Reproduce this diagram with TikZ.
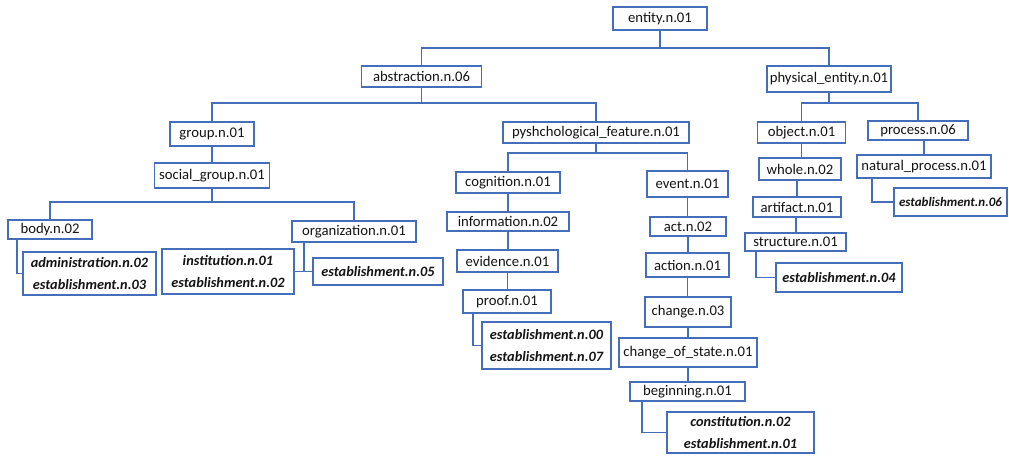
\documentclass[tikz,border=0pt]{standalone}
\usepackage{fontspec}
\setmainfont{Carlito}
\definecolor{boxblue}{RGB}{68,110,185}
\definecolor{txt}{RGB}{20,20,20}
\tikzset{
  every picture/.style={x=1pt,y=-1pt},
  tbox/.style={draw=boxblue,line width=1.5pt,fill=white,inner sep=0pt,text=txt,
    font=\fontsize{14.7}{17}\selectfont},
  lbox/.style={tbox,align=center,font=\fontsize{14.3}{21.5}\selectfont\bfseries\itshape},
  conn/.style={draw=boxblue,line width=1.4pt},
}
\begin{document}
\begin{tikzpicture}
\useasboundingbox (0,0) rectangle (1009,455);
% nodes
\node[tbox,minimum width=94,minimum height=23] (entity) at (660,18.5) {entity.n.01};
\node[tbox,minimum width=120,minimum height=21] (abs) at (421.5,76.5) {abstraction.n.06};
\node[tbox,minimum width=124,minimum height=26] (phys) at (829,79) {physical\_entity.n.01};
\node[tbox,minimum width=84,minimum height=24] (group) at (212,134) {group.n.01};
\node[tbox,minimum width=186,minimum height=21] (psych) at (596,132.5) {pyshchological\_feature.n.01};
\node[tbox,minimum width=88,minimum height=21] (object) at (801.5,132.5) {object.n.01};
\node[tbox,minimum width=100,minimum height=19] (process) at (918,130.5) {process.n.06};
\node[tbox,minimum width=115,minimum height=25] (social) at (212,175.5) {social\_group.n.01};
\node[tbox,minimum width=84,minimum height=19] (body) at (50,229.5) {body.n.02};
\node[tbox,minimum width=124,minimum height=21] (org) at (354,231.5) {organization.n.01};
\node[lbox,minimum width=133,minimum height=43] (admin) at (89.5,273.5) {administration.n.02\\establishment.n.03};
\node[lbox,minimum width=132,minimum height=45] (inst) at (228,271.5) {institution.n.01\\establishment.n.02};
\node[lbox,minimum width=130,minimum height=27] (est05) at (378,271.5) {establishment.n.05};
\node[tbox,minimum width=104,minimum height=21] (cog) at (508,182.5) {cognition.n.01};
\node[tbox,minimum width=81,minimum height=26] (event) at (687.5,184) {event.n.01};
\node[tbox,minimum width=122,minimum height=19] (info) at (508,221.5) {information.n.02};
\node[tbox,minimum width=101,minimum height=22] (evid) at (507.5,261) {evidence.n.01};
\node[tbox,minimum width=88,minimum height=23] (proof) at (507,301.5) {proof.n.01};
\node[lbox,minimum width=129,minimum height=47] (est00) at (546.5,345.5) {establishment.n.00\\establishment.n.07};
\node[tbox,minimum width=76,minimum height=19] (act) at (688,226.5) {act.n.02};
\node[tbox,minimum width=83,minimum height=24] (action) at (687.5,265) {action.n.01};
\node[tbox,minimum width=86,minimum height=30] (change) at (688,312) {change.n.03};
\node[tbox,minimum width=138,minimum height=29] (cos) at (688,352.5) {change\_of\_state.n.01};
\node[tbox,minimum width=115,minimum height=19] (begin) at (687.5,391.5) {beginning.n.01};
\node[lbox,minimum width=147,minimum height=41] (const) at (740.5,432.5) {constitution.n.02\\establishment.n.01};
\node[tbox,minimum width=82,minimum height=22] (whole) at (800,169) {whole.n.02};
\node[tbox,minimum width=88,minimum height=20] (artif) at (797,207) {artifact.n.01};
\node[tbox,minimum width=101,minimum height=18] (struct) at (795.5,242) {structure.n.01};
\node[lbox,minimum width=126,minimum height=29] (est04) at (839,277.5) {establishment.n.04};
\node[tbox,minimum width=134,minimum height=23] (nat) at (924,166.5) {natural\_process.n.01};
\node[lbox,minimum width=113,minimum height=28,font=\fontsize{13}{16}\selectfont\bfseries\itshape] (est06) at (950.5,202) {establishment.n.06};
% bus points
\coordinate (b1) at (660,48);
\coordinate (b2) at (421.5,103);
\coordinate (b3) at (829,103);
\coordinate (b4) at (212,202);
\coordinate (b5) at (596,153);
% connectors
\draw[conn] (entity.south) -- (b1);
\draw[conn] (abs.north) |- (b1) -| (phys.north);
\draw[conn] (abs.south) -- (b2);
\draw[conn] (group.north) |- (b2) -| (psych.north);
\draw[conn] (phys.south) -- (b3);
\draw[conn] (object.north) |- (b3) -| (process.north);
\draw[conn] (group.south) -- (social.north);
\draw[conn] (social.south) -- (b4);
\draw[conn] (body.north) |- (b4) -| (org.north);
\draw[conn] ([xshift=-33pt]body.south) |- (admin.west);
\draw[conn] ([xshift=-50pt]org.south) |- (est05.west);
\draw[conn] (inst.east) -- (est05.west);
\draw[conn] (psych.south) -- (b5);
\draw[conn] (cog.north) |- (b5) -| (event.north);
\draw[conn] (cog.south) -- (cog.south |- info.north);
\draw[conn] (info.south) -- (info.south |- evid.north);
\draw[conn] (evid.south) -- (evid.south |- proof.north);
\draw[conn] ([xshift=-34pt]proof.south) |- (est00.west);
\draw[conn] (event.south) -- (event.south |- act.north);
\draw[conn] (act.south) -- (act.south |- action.north);
\draw[conn] (action.south) -- (action.south |- change.north);
\draw[conn] (change.south) -- (change.south |- cos.north);
\draw[conn] (cos.south) -- (cos.south |- begin.north);
\draw[conn] ([xshift=-45.5pt]begin.south) |- (const.west);
\draw[conn] (object.south) -- (object.south |- whole.north);
\draw[conn] ([xshift=-3pt]whole.south) -- ([xshift=-3pt]whole.south |- artif.north);
\draw[conn] ([xshift=-1pt]artif.south) -- ([xshift=-1pt]artif.south |- struct.north);
\draw[conn] ([xshift=-39.5pt]struct.south) |- (est04.west);
\draw[conn] (nat.north) -- (nat.north |- process.south);
\draw[conn] ([xshift=-52pt]nat.south) |- (est06.west);
\end{tikzpicture}
\end{document}
